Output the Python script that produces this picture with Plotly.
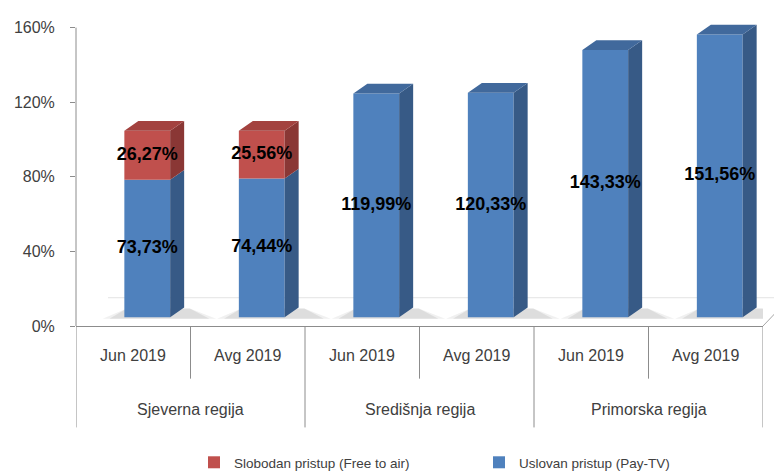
import plotly.graph_objects as go

# ---- data ----
months = ["Jun 2019", "Avg 2019", "Jun 2019", "Avg 2019", "Jun 2019", "Avg 2019"]
regions = ["Sjeverna regija", "Središnja regija", "Primorska regija"]
pay_tv = [73.73, 74.44, 119.99, 120.33, 143.33, 151.56]
free_to_air = [26.27, 25.56, 0, 0, 0, 0]
y_ticks = [0, 40, 80, 120, 160]
y_tick_labels = ["0%", "40%", "80%", "120%", "160%"]
series_names = ["Slobodan pristup (Free to air)", "Uslovan pristup (Pay-TV)"]

# ---- style ----
FONT = "Liberation Sans, Arial, sans-serif"
TXT = "#404040"
AX = "#8C8C8C"
BLUE = ("#4F81BD", "#375A86", "#41699C")   # front, side, top
RED = ("#C0504D", "#8A3735", "#A3423F")

px_per_unit = 306 / 160.0
plot_h = 475 - 5 - 149
y_max = plot_h / px_per_unit
cat_px = 687 / 6.0
shift_x = 14 / cat_px          # 3D depth offset of the bar front faces
shift_y = 9 / px_per_unit
dx = 14 / cat_px               # bar depth
dy = 10 / px_per_unit
W = 0.40

x = list(range(len(months)))
fmt = lambda v: f"{v:.2f}".replace(".", ",") + "%"

fig = go.Figure()

# shadows on the floor (main axes -> drawn underneath the bars' subplot)
for alpha, grow in [(0.06, 0.06), (0.08, 0.0)]:
    sx, sy = [], []
    for i in x:
        xl, xr = i - W / 2 + shift_x, i + W / 2 + shift_x
        sx += [xl - 0.13 - grow, xr + dx + 0.22 + grow, xr + dx + 0.05, xl + 0.02, None]
        sy += [shift_y - 0.8, shift_y - 0.8, shift_y + dy * 0.9, shift_y + dy * 0.9, None]
    fig.add_trace(go.Scatter(x=sx, y=sy, mode="lines", fill="toself",
                             fillcolor=f"rgba(0,0,0,{alpha})", line=dict(width=0),
                             hoverinfo="skip", showlegend=False))

segments = [(pay_tv, [0] * len(x), BLUE), (free_to_air, pay_tv, RED)]
for vals, bases, cols in segments:
    side_x, side_y = [], []
    for i in x:
        v, b = vals[i], bases[i]
        if not v:
            continue
        t = b + v
        xr = i + W / 2
        side_x += [xr, xr + dx, xr + dx, xr, None]
        side_y += [b, b + dy, t + dy, t, None]
    fig.add_trace(go.Scatter(x=side_x, y=side_y, xaxis="x2", yaxis="y2", mode="lines",
                             fill="toself", fillcolor=cols[1], line=dict(width=0),
                             hoverinfo="skip", showlegend=False))

# top faces (only on topmost segment)
for vals, bases, cols in segments:
    top_x, top_y = [], []
    for i in x:
        v, b = vals[i], bases[i]
        if not v:
            continue
        if vals is pay_tv and free_to_air[i]:
            continue
        t = b + v
        xl, xr = i - W / 2, i + W / 2
        top_x += [xl, xl + dx, xr + dx, xr, None]
        top_y += [t, t + dy, t + dy, t, None]
    fig.add_trace(go.Scatter(x=top_x, y=top_y, xaxis="x2", yaxis="y2", mode="lines",
                             fill="toself", fillcolor=cols[2], line=dict(width=0),
                             hoverinfo="skip", showlegend=False))

# front faces
fig.add_trace(go.Bar(x=x, y=pay_tv, base=[0] * len(x), width=W, xaxis="x2", yaxis="y2",
                     marker=dict(color=BLUE[0], line=dict(width=0)), name=series_names[1],
                     legend="legend2", cliponaxis=False))
fig.add_trace(go.Bar(x=x, y=free_to_air, base=pay_tv, width=W, xaxis="x2", yaxis="y2",
                     marker=dict(color=RED[0], line=dict(width=0)), name=series_names[0],
                     legend="legend", cliponaxis=False))

# data labels
lx, ly, lt = [], [], []
for i in x:
    lx.append(i); ly.append(pay_tv[i] / 2); lt.append(fmt(pay_tv[i]))
    if free_to_air[i]:
        lx.append(i); ly.append(pay_tv[i] + free_to_air[i] / 2); lt.append(fmt(free_to_air[i]))
fig.add_trace(go.Scatter(x=lx, y=ly, text=lt, mode="text", xaxis="x2", yaxis="y2",
                         textfont=dict(family=FONT, size=18, color="#000000", weight="bold"),
                         hoverinfo="skip", showlegend=False, cliponaxis=False))

shapes = []
# y axis line (0..160)
shapes.append(dict(type="line", xref="paper", yref="y", x0=0, x1=0, y0=0, y1=160,
                   line=dict(color=AX, width=1)))
# floor
back = 29 / plot_h
shapes.append(dict(type="line", xref="paper", yref="paper", x0=1, y0=0, x1=1 + 27 / 687, y1=back,
                   line=dict(color="#A6A6A6", width=1)))
shapes.append(dict(type="line", xref="paper", yref="paper", x0=32 / 687, y0=back, x1=1 + 27 / 687,
                   y1=back, line=dict(color="#E3E3E3", width=1), layer="below"))
# category separators
for b in [0.5, 2.5, 4.5]:
    shapes.append(dict(type="line", xref="x", yref="paper", x0=b, x1=b, y0=0, y1=-54 / plot_h,
                       line=dict(color=AX, width=1)))
for b in [-0.5, 1.5, 3.5, 5.5]:
    shapes.append(dict(type="line", xref="x", yref="paper", x0=b, x1=b, y0=0, y1=-104 / plot_h,
                       line=dict(color=AX, width=1)))

annotations = []
for i, m in enumerate(months):
    annotations.append(dict(x=i, y=-30 / plot_h, xref="x", yref="paper", text=m, showarrow=False,
                            font=dict(family=FONT, size=16, color=TXT), yanchor="middle"))
for j, r in enumerate(regions):
    annotations.append(dict(x=2 * j + 0.5, y=-86 / plot_h, xref="x", yref="paper", text=r,
                            showarrow=False, font=dict(family=FONT, size=16, color=TXT),
                            yanchor="middle"))

fig.update_layout(
    width=782, height=475,
    margin=dict(l=68, r=27, t=5, b=149),
    plot_bgcolor="white", paper_bgcolor="white",
    barmode="overlay",
    showlegend=True,
    xaxis=dict(range=[-0.5, 5.5], showgrid=False, zeroline=False, showticklabels=False,
               showline=True, linecolor=AX, linewidth=1, ticks=""),
    yaxis=dict(range=[0, y_max], tickvals=y_ticks, ticktext=y_tick_labels, showgrid=False,
               zeroline=False, showline=False, ticks="outside", ticklen=5, tickcolor=AX,
               ticklabelstandoff=12,
               tickfont=dict(family=FONT, size=16, color=TXT)),
    xaxis2=dict(range=[-0.5 - shift_x, 5.5 - shift_x], overlaying="x", visible=False),
    yaxis2=dict(range=[-shift_y, y_max - shift_y], overlaying="y", visible=False),
    legend=dict(x=(186 - 68) / 687, y=(326 - 466) / plot_h, xanchor="left", yanchor="middle",
                orientation="h", font=dict(family=FONT, size=13.5, color=TXT), itemwidth=30),
    legend2=dict(x=(471 - 68) / 687, y=(326 - 466) / plot_h, xanchor="left", yanchor="middle",
                 orientation="h", font=dict(family=FONT, size=13.5, color=TXT), itemwidth=30),
    shapes=shapes, annotations=annotations,
)

fig.write_html("out.html")
